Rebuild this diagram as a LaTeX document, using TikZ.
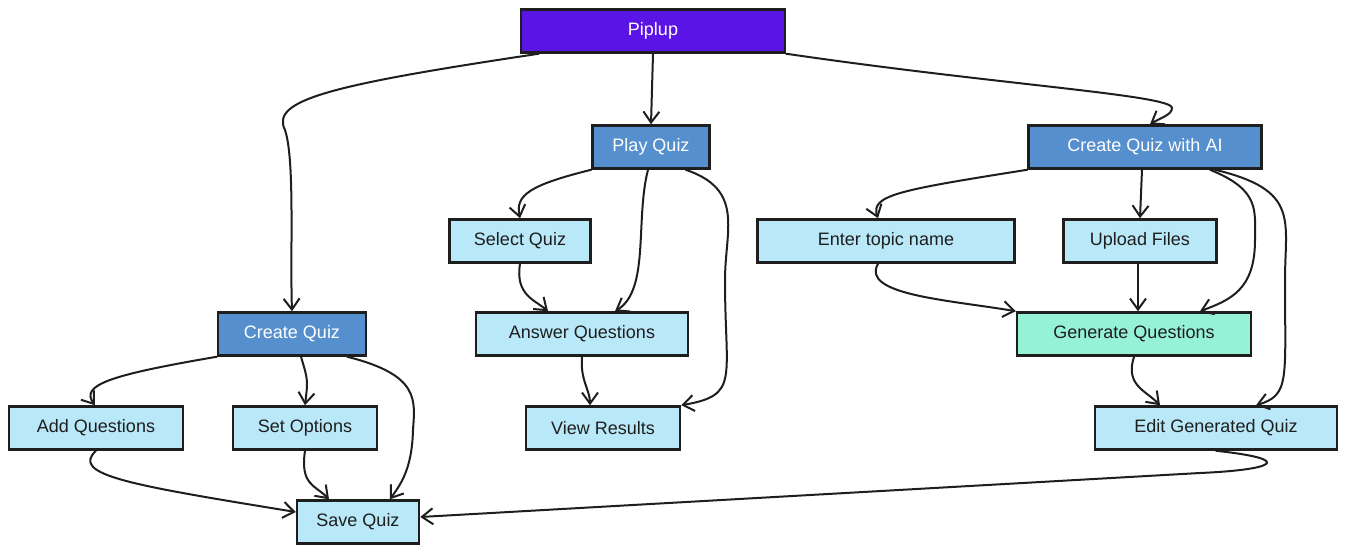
\documentclass[tikz,border=0pt]{standalone}
\usepackage{fontspec}
\setmainfont{Liberation Sans}
\usetikzlibrary{arrows.meta}
\definecolor{inkc}{HTML}{1E1E1E}
\definecolor{rootc}{HTML}{5B14E6}
\definecolor{mainc}{HTML}{558FCD}
\definecolor{subc}{HTML}{B9E8F8}
\definecolor{genc}{HTML}{96F2D6}
\tikzset{
  box/.style={draw=inkc, line width=2.5pt, inner sep=0pt, minimum height=43pt,
    font=\fontsize{18pt}{20pt}\selectfont},
  rootbox/.style={box, fill=rootc, text=white},
  mainbox/.style={box, fill=mainc, text=white},
  subbox/.style={box, fill=subc, text=inkc},
  genbox/.style={box, fill=genc, text=inkc},
  link/.style={draw=inkc, line width=2pt, line cap=round,
    -{Straight Barb[length=11pt,width=16pt,line width=2pt]}}
}

\begin{document}
\begin{tikzpicture}[x=1pt,y=-1pt]
	\useasboundingbox (0,0) rectangle (1347,554);

	\node[rootbox, minimum width=264pt] (piplup) at (653, 31)  {Piplup};
	\node[mainbox, minimum width=117pt] (play)   at (651, 147) {Play Quiz};
	\node[mainbox, minimum width=233pt] (cqai)   at (1145, 147) {Create Quiz with AI};
	\node[mainbox, minimum width=148pt] (cq)     at (292, 334) {Create Quiz};

	\node[subbox, minimum width=141pt] (select) at (520, 241) {Select Quiz};
	\node[subbox, minimum width=257pt] (enter)  at (886, 241) {Enter topic name};
	\node[subbox, minimum width=153pt] (upload) at (1140, 241) {Upload Files};
	\node[subbox, minimum width=212pt] (answer) at (582, 334) {Answer Questions};
	\node[genbox, minimum width=234pt] (gen)    at (1134, 334) {Generate Questions};

	\node[subbox, minimum width=174pt] (addq)   at (96, 428)  {Add Questions};
	\node[subbox, minimum width=144pt] (setopt) at (305, 428) {Set Options};
	\node[subbox, minimum width=154pt] (view)   at (603, 428) {View Results};
	\node[subbox, minimum width=242pt] (edit)   at (1216, 428) {Edit Generated Quiz};
	\node[subbox, minimum width=122pt] (save)   at (358, 522) {Save Quiz};

	% root
	\draw[link] ([xshift=19pt]piplup.south west) .. controls (330,85) and (270,100) .. (285,130)
		.. controls (295,160) and (290,250) .. (cq.north);
	\draw[link] (piplup.south) -- (play.north);
	\draw[link] (piplup.south east) .. controls (1000,85) and (1172,95) .. (1172,108)
		.. controls (1172,115) and (1160,118) .. ([xshift=5pt]cqai.north);

	% play quiz
	\draw[link] (play.south west) .. controls (530,185) and (515,195) .. (select.north);
	\draw[link] ([xshift=-3pt]play.south) .. controls (635,220) and (650,290) .. ([xshift=33pt]answer.north);
	\draw[link] ([xshift=-25pt]play.south east) .. controls (745,190) and (725,230) .. (725,280)
		.. controls (725,380) and (740,395) .. (view.north east);
	\draw[link] (select.south) .. controls (515,295) and (535,300) .. ([xshift=-34pt]answer.north);
	\draw[link] (answer.south) .. controls (580,380) and (590,390) .. ([xshift=-13pt]view.north);

	% create quiz with AI
	\draw[link] (cqai.south west) .. controls (900,190) and (870,195) .. ([xshift=-8pt]enter.north);
	\draw[link] ([xshift=-3pt]cqai.south) -- (upload.north);
	\draw[link] ([xshift=65pt]cqai.south) .. controls (1260,190) and (1255,210) .. (1255,240)
		.. controls (1255,290) and (1230,300) .. ([xshift=66pt]gen.north);
	\draw[link] ([xshift=70pt]cqai.south) .. controls (1300,190) and (1285,220) .. (1285,280)
		.. controls (1285,380) and (1290,395) .. ([xshift=40pt]edit.north);
	\draw[link] ([xshift=-8pt]enter.south) .. controls (860,295) and (950,300) .. (gen.north west);
	\draw[link] ([xshift=-2pt]upload.south) -- ([xshift=4pt]gen.north);
	\draw[link] (gen.south) .. controls (1125,385) and (1145,390) .. ([xshift=-56pt]edit.north);

	% create quiz
	\draw[link] (cq.south west) .. controls (110,375) and (80,385) .. ([xshift=-1pt]addq.north);
	\draw[link] ([xshift=9pt]cq.south) .. controls (308,380) .. (setopt.north);
	\draw[link] ([xshift=-20pt]cq.south east) .. controls (420,375) and (415,400) .. (413,430)
		.. controls (412,470) and (400,485) .. ([xshift=32pt]save.north);
	\draw[link] (addq.south) .. controls (70,475) and (130,485) .. ([yshift=10pt]save.west);
	\draw[link] (setopt.south) .. controls (300,485) and (315,485) .. ([xshift=-29pt]save.north);
	\draw[link] (edit.south) .. controls (1300,460) and (1270,470) .. (1200,473) -- ([yshift=5pt]save.east);
\end{tikzpicture}
\end{document}
